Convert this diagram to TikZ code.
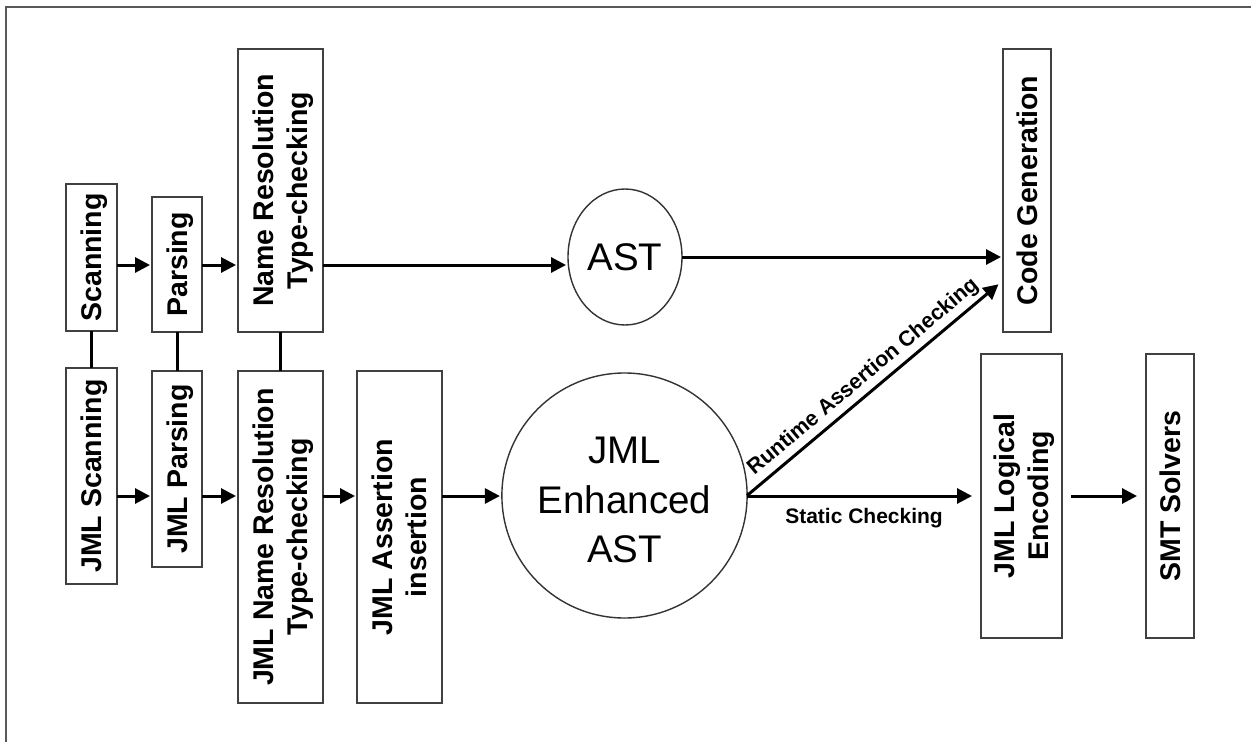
\documentclass[tikz,border=0pt]{standalone}
\usepackage{fontspec}
\usepackage{graphicx}
\setmainfont{Liberation Sans}
\usetikzlibrary{arrows.meta,shapes.geometric,calc}

% vertical (rotated) stage caption, one or more lines
\newcommand\vlabel[1]{\hspace*{7pt}\rotatebox{90}{\begin{tabular}{@{}c@{}}#1\end{tabular}}}

\begin{document}
\begin{tikzpicture}[x=1pt,y=-1pt,
  stage/.style={draw=black!75, line width=2pt, inner sep=0pt, outer sep=0pt,
    font=\bfseries\fontsize{28.5}{34}\selectfont},
  tree/.style={ellipse, draw=black!80, line width=1.4pt, inner sep=0pt, outer sep=0pt,
    align=center, font=\fontsize{38.5}{49.5}\selectfont},
  flow/.style={line width=3pt, shorten >=2pt, -{Triangle[length=15pt,width=15pt]}},
  link/.style={line width=3pt},
  edgelabel/.style={font=\bfseries\fontsize{21}{25}\selectfont}]

\useasboundingbox (0,0) rectangle (1251,742);
\fill[white] (0,0) rectangle (1251,742);

% outer frame (top and left edges)
\draw[black!65, line width=1.5pt] (6,742) -- (6,7) -- (1251,7);

% row levels of the two pipelines
\coordinate (upper) at (0,265);
\coordinate (lower) at (0,496);

% Java front end
\node[stage, minimum width=51pt, minimum height=147pt] (scan) at (91.5,257.5) {\vlabel{Scanning}};
\node[stage, minimum width=50pt, minimum height=135pt] (pars) at (177,264.5) {\vlabel{Parsing}};
\node[stage, minimum width=85pt, minimum height=283pt] (nr) at (280.5,190.5) {\vlabel{Name Resolution\\Type-checking}};

% JML front end
\node[stage, minimum width=51pt, minimum height=216pt] (jscan) at (91.5,476) {\vlabel{JML Scanning}};
\node[stage, minimum width=50pt, minimum height=196pt] (jpars) at (177,469) {\vlabel{JML Parsing}};
\node[stage, minimum width=85pt, minimum height=332pt] (jnr) at (280.5,537) {\vlabel{JML Name Resolution\\Type-checking}};
\node[stage, minimum width=85pt, minimum height=332pt] (jassert) at (399.5,537) {\vlabel{JML Assertion\\insertion}};

% syntax trees
\node[tree, minimum width=114pt, minimum height=136pt] (ast) at (625,257) {AST};
\node[tree, minimum width=231pt, minimum height=245pt] (enh) at (624.5,495.5)
  {\rule{0pt}{36pt}JML\\Enhanced\\AST};

% back ends
\node[stage, minimum width=48pt, minimum height=283pt] (codegen) at (1027,190.5) {\vlabel{Code Generation}};
\node[stage, minimum width=81pt, minimum height=284pt] (enc) at (1021.5,496) {\vlabel{JML Logical\\Encoding}};
\node[stage, minimum width=48pt, minimum height=284pt] (smt) at (1170,496) {\vlabel{SMT Solvers}};

% links between corresponding stages
\draw[link] (scan) -- (jscan);
\draw[link] (pars) -- (jpars);
\draw[link] (nr) -- (jnr);

% upper pipeline
\draw[flow] (scan.east |- upper) -- (pars.west |- upper);
\draw[flow] (pars.east |- upper) -- (nr.west |- upper);
\draw[flow] (nr.east |- upper) -- (ast.west |- upper);
\draw[flow] (ast.east) -- (codegen.west |- ast.east);

% lower pipeline
\draw[flow] (jscan.east |- lower) -- (jpars.west |- lower);
\draw[flow] (jpars.east |- lower) -- (jnr.west |- lower);
\draw[flow] (jnr.east |- lower) -- (jassert.west |- lower);
\draw[flow] (jassert.east |- lower) -- (enh.west |- lower);

% checking paths
\coordinate (rtip) at ($(codegen.south west)+(-3,-49)$);
\draw[flow] (enh.east) -- (rtip)
  node[midway, above=1pt, sloped, edgelabel, font=\bfseries\fontsize{21.5}{25}\selectfont]
  {Runtime Assertion Checking};
\draw[flow, shorten >=9pt] (enh.east |- lower) -- (enc.west |- lower)
  node[midway, below=7pt, edgelabel] {Static Checking};
\draw[flow, shorten <=9pt, shorten >=9pt] (enc.east) -- (smt.west);

\end{tikzpicture}
\end{document}
